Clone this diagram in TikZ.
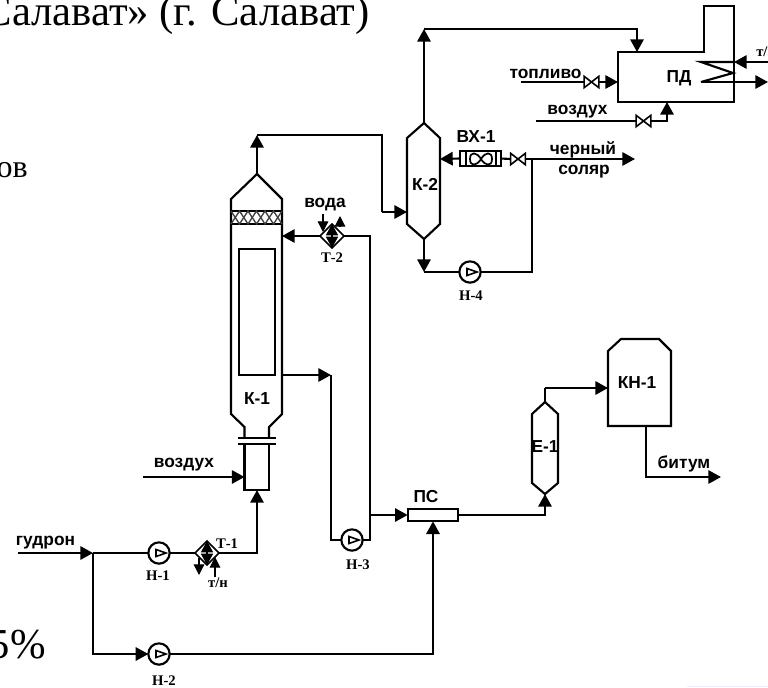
\documentclass[tikz,border=0pt]{standalone}
\usepackage{fontspec}
\setmainfont{Liberation Serif}
\setsansfont{Liberation Sans}
\usetikzlibrary{arrows.meta}
\usetikzlibrary{shapes.geometric}

\begin{document}
\begin{tikzpicture}[x=0.75pt, y=-0.75pt,
  pipe/.style={line width=1.6pt},
  thinline/.style={line width=1pt},
  flow/.style={pipe, -{Triangle[length=9.5pt,width=10pt]}},
  smallflow/.style={line width=0.9pt, -{Triangle[length=8pt,width=8pt]}},
  pump/.style={draw, circle, line width=1.6pt, minimum size=16pt, inner sep=0pt, outer sep=0pt},
  heater/.style={draw, diamond, aspect=1, line width=1.2pt, minimum size=18pt, inner sep=0pt, outer sep=0pt},
  valve/.style={minimum width=11pt, minimum height=8.5pt, inner sep=0pt, outer sep=0pt},
  lab/.style={font=\sffamily\bfseries\fontsize{13}{15}\selectfont, inner sep=0pt},
  tag/.style={font=\rmfamily\bfseries\fontsize{11}{13}\selectfont, inner sep=0pt},
  big/.style={font=\rmfamily\fontsize{32}{36}\selectfont, inner sep=0pt, anchor=base east}]
  \clip[use as bounding box] (0,0) rectangle (768,687);
  % slide text behind the scheme
  \node[big] (title) at (370,25) {Салават» (г. Салават)};
  \node[big, font=\rmfamily\fontsize{24}{28}\selectfont] (line2) at (28,177) {ов};
  \node[big] (line3) at (46,658) {5\%};
  \fill[blue!7] (687,685.5) rectangle (768,687);

  % points on the vessels
  \coordinate (k1top) at (257,174);
  \coordinate (k1bot) at (257,490);
  \coordinate (k1air) at (244.5,477);
  \coordinate (k1side) at (282,375);
  \coordinate (k1back) at (282,236);
  \coordinate (k2top) at (424,123);
  \coordinate (k2bot) at (424,239);
  \coordinate (k2in) at (407,212);
  \coordinate (k2back) at (440,159);
  \coordinate (e1top) at (545,402);
  \coordinate (e1bot) at (545,494);
  \coordinate (kn1in) at (608,388);
  \coordinate (kn1bot) at (646,426);
  \coordinate (pdin) at (637,52);
  \coordinate (pdfuel) at (618,82);
  \coordinate (pdair) at (667,102);
  \coordinate (coil1) at (734,62);
  \coordinate (coil2) at (701,82);

  % column K-1
  \draw[pipe] (231,224) -- (231,199) -- (k1top) -- (282,199) -- (282,224);
  \draw[pipe] (231,211) rectangle (282,224);
  \draw[line width=1pt, black!75] (231,211) -- (239.5,224) -- (248,211) -- (256.5,224) -- (265,211) -- (273.5,224) -- (282,211);
  \draw[line width=1pt, black!75] (231,224) -- (239.5,211) -- (248,224) -- (256.5,211) -- (265,224) -- (273.5,211) -- (282,224);
  \draw[pipe] (231,224) -- (231,414) -- (244.5,427) -- (244.5,438);
  \draw[pipe] (282,224) -- (282,414) -- (269,427) -- (269,438);
  \draw[thinline] (239,249) rectangle (275,375);
  \draw[pipe] (238,438) -- (276,438);
  \draw[pipe] (238,444) -- (276,444);
  \draw[pipe] (244.5,444) -- (244.5,490) -- (269,490) -- (269,444);
  \node[lab] (k1) at (257,399) {К-1};

  % column K-2
  \draw[pipe] (k2top) -- (440,138) -- (440,224) -- (k2bot) -- (407,224) -- (407,138) -- cycle;
  \node[lab] (k2) at (425,184) {К-2};

  % vessel E-1
  \draw[pipe] (e1top) -- (558,414) -- (558,483) -- (e1bot) -- (532,483) -- (532,414) -- cycle;
  \node[lab] (e1) at (545,447) {Е-1};

  % vessel KN-1
  \draw[pipe] (608,351) -- (621,339) -- (659,339) -- (671,351) -- (671,426) -- (608,426) -- cycle;
  \node[lab] (kn1) at (637,383) {КН-1};

  % furnace
  \draw[pipe] (618,52) -- (704,52) -- (704,6) -- (734,6) -- (734,102) -- (618,102) -- cycle;
  \draw[pipe] (coil1) -- (701,62) -- (733,73) -- (coil2);
  \node[lab] (pd) at (679,78) {ПД};

  % pumps, heaters, valves
  \foreach \name/\pos in {h1/{159,553}, h2/{159,654}, h3/{352,540}, h4/{470,272}} {
    \node[pump] (\name) at (\pos) {};
    \draw[line width=1.2pt] (\name.center) ++(-3,-3.5) -- ++(10,3.5) -- ++(-10,3.5) -- cycle;
  }
  \foreach \name/\pos in {t1/{207,553}, t2/{332,236}} {
    \node[heater] (\name) at (\pos) {};
    \draw[line width=1.2pt, {Triangle[length=8.5pt,width=9pt]}-{Triangle[length=8.5pt,width=9pt]}] (\name.north) -- (\name.south);
  }
  \foreach \name/\pos in {v1/{591.5,82}, v2/{643.5,121}, v3/{518,159}} {
    \node[valve] (\name) at (\pos) {};
    \draw[line width=1.2pt] (\name.north west) -- (\name.south east) -- (\name.north east) -- (\name.south west) -- cycle;
  }

  % settler PS and cooler VH-1
  \node[draw, line width=1.6pt, minimum width=38pt, minimum height=9.5pt, inner sep=0pt, outer sep=0pt] (ps) at (433,515) {};
  \node[lab] (pslab) at (426,497) {ПС};
  \node[draw, line width=1.6pt, minimum width=30.5pt, minimum height=11pt, inner sep=0pt, outer sep=0pt] (bx) at (480.5,158.5) {};
  \draw[pipe] (466,151) -- (466,166);
  \draw[pipe] (496,151) -- (496,166);
  \draw[line width=1.3pt] (470,159) .. controls (470,151) and (477,152) .. (481,159) .. controls (485,166) and (492,167) .. (492,159) .. controls (492,151) and (485,152) .. (481,159) .. controls (477,166) and (470,167) .. (470,159);
  \node[lab] (bxlab) at (476,137) {ВХ-1};

  % feed side
  \coordinate (feed) at (18,553);
  \coordinate (split) at (93,553);
  \coordinate (airin) at (143,477);
  \draw[flow] (feed) -- (split);
  \draw[pipe] (split) -- (h1);
  \draw[pipe] (h1) -- (t1);
  \draw[flow] (t1.east) -| (k1bot);
  \draw[flow] (split) |- (h2);
  \draw[flow] (airin) -- (k1air);
  \draw[flow] (h2) -| (ps.south);
  \node[lab] (gudron) at (45.5,543) {гудрон};
  \node[lab] (air1) at (184,465) {воздух};
  \node[tag] (h1lab) at (158,576) {Н-1};
  \node[tag] (h2lab) at (164,681) {Н-2};
  \node[tag] (t1lab) at (227,544) {Т-1};
  \coordinate (t1out) at (199,575);
  \coordinate (t1in) at (215,557);
  \draw[smallflow] (199,558) -- (t1out);
  \draw[smallflow] (215,577) -- (t1in);
  \node[tag] (tn1) at (218,583) {т/н};

  % overhead and reflux
  \coordinate (top1) at (257,135);
  \coordinate (top2) at (382,212);
  \coordinate (mid1) at (331,375);
  \coordinate (mid2) at (370,515);
  \draw[flow] (k1top) -- (top1);
  \draw[thinline] (top1) -| (top2);
  \draw[flow] (top2) -- (k2in);
  \draw[flow] (t2.west) -- (k1back);
  \draw[flow] (k1side) -- (mid1);
  \draw[pipe] (mid1) |- (h3);
  \draw[pipe] (h3) -| (mid2);
  \draw[pipe] (t2.east) -| (mid2);
  \draw[flow] (mid2) -- (ps.west);
  \node[lab] (voda) at (325,205) {вода};
  \node[tag] (t2lab) at (332,258) {Т-2};
  \node[tag] (h3lab) at (358,565) {Н-3};
  \draw[smallflow] (323,214) -- (323,232);
  \draw[smallflow] (340,227) -- (340,216);

  % K-2 loop
  \coordinate (k2up) at (424,29);
  \coordinate (k2down) at (424,272);
  \coordinate (sol1) at (532,159);
  \coordinate (sol2) at (635,159);
  \draw[flow] (k2top) -- (k2up);
  \draw[flow] (k2up) -| (pdin);
  \draw[flow] (k2bot) -- (k2down);
  \draw[pipe] (k2down) -- (h4);
  \draw[pipe] (h4) -| (sol1);
  \draw[flow] (v3.east) -- (sol2);
  \draw[pipe] (bx.east) -- (v3.west);
  \draw[flow] (bx.west) -- (k2back);
  \node[lab] (sol3) at (583,150) {черный};
  \node[lab] (sol4) at (584,172) {соляр};
  \node[tag] (h4lab) at (471,296) {Н-4};

  % furnace lines
  \coordinate (fuel) at (521,82);
  \coordinate (air2) at (536,121);
  \coordinate (oilin) at (768,62);
  \coordinate (oilout) at (768,82);
  \draw[pipe] (fuel) -- (v1.west);
  \draw[flow] (v1.east) -- (pdfuel);
  \draw[pipe] (air2) -- (v2.west);
  \draw[flow] (v2.east) -| (pdair);
  \draw[flow] (oilin) -- (coil1);
  \draw[flow] (coil2) -- (oilout);
  \node[lab] (fuellab) at (545.5,74) {топливо};
  \node[lab] (air2lab) at (577.5,112) {воздух};
  \node[tag, anchor=west] (tn2) at (756,52) {т/н};

  % product side
  \coordinate (bit) at (721,477);
  \coordinate (e1up) at (545,388);
  \draw[flow] (ps.east) -| (e1bot);
  \draw[pipe] (e1top) -- (e1up);
  \draw[flow] (e1up) -- (kn1in);
  \draw[flow] (kn1bot) |- (bit);
  \node[lab] (bitlab) at (684,464) {битум};
\end{tikzpicture}
\end{document}
